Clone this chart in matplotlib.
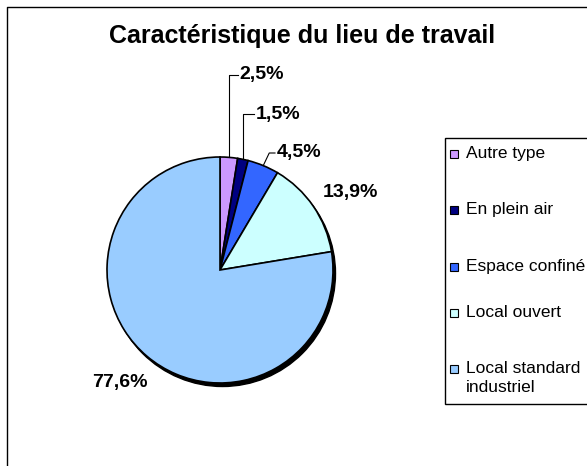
import numpy as np
import matplotlib
matplotlib.use('Agg')
import matplotlib.pyplot as plt
from matplotlib.patches import Circle, Rectangle

plt.rcParams['font.family'] = ['Liberation Sans', 'DejaVu Sans']

# data
categories = ['Autre type', 'En plein air', 'Espace confiné', 'Local ouvert',
              'Local standard\nindustriel']
values = [2.5, 1.5, 4.5, 13.9, 77.6]
labels = ['2,5%', '1,5%', '4,5%', '13,9%', '77,6%']
colors = ['#CC99FF', '#000080', '#3366FF', '#CCFFFF', '#99CCFF']

W, H = 587, 466
fig = plt.figure(figsize=(W / 100, H / 100), dpi=100)
ax = fig.add_axes([0, 0, 1, 1])

# pie geometry in pixels (y down)
cx, cy, r = 220, 270, 113

# shadow
ax.add_patch(Circle((cx + 2.5, cy + 3.5), r, color='black', zorder=1))

# the y axis is inverted, so counterclock in data space is clockwise on screen
wedges, _ = ax.pie(values, colors=colors, startangle=-90, counterclock=True,
                   center=(cx, cy), radius=r, frame=True,
                   wedgeprops=dict(edgecolor='black', linewidth=1.2, zorder=2))
ax.set_xlim(0, W)
ax.set_ylim(H, 0)
ax.set_aspect('auto')
ax.axis('off')

# frame of chart area
ax.plot([7, 7, W + 5], [H + 5, 7, 7], color='black', lw=1)

ax.text(302, 36, 'Caractéristique du lieu de travail', ha='center', va='center',
        fontsize=18, fontweight='bold')

# label positions
pos = [(262, 75), (278, 114), (299, 153), (350, 192), (120, 382)]
for lab, (lx, ly) in zip(labels, pos):
    ax.text(lx, ly, lab, ha='center', va='center', fontsize=14,
            fontweight='bold', zorder=5)

# leader lines for the small slices
cum = np.cumsum([0] + values)
for i in range(3):
    mid = (cum[i] + values[i] / 2) / 100 * 2 * np.pi
    ax_x = cx + r * np.sin(mid)
    ax_y = cy - r * np.cos(mid)
    lx, ly = pos[i]
    tx = lx - 24
    if i < 2:
        xs = [ax_x, ax_x, tx]
        ys = [ax_y, ly, ly]
    else:
        xs = [ax_x, ax_x + 6, tx]
        ys = [ax_y, ly, ly]
    ax.plot(xs, ys, color='black', lw=0.8, zorder=4)

# legend
ax.add_patch(Rectangle((445, 138), 160, 266, facecolor='white',
                       edgecolor='black', lw=1, zorder=3))
ys_leg = [154, 210, 267, 313, 369]
for name, col, yy in zip(categories, colors, ys_leg):
    ax.add_patch(Rectangle((450, yy - 4), 8, 8, facecolor=col,
                           edgecolor='black', lw=0.8, zorder=4))
    ax.text(466, yy - 8, name, ha='left', va='top', fontsize=12.5,
            linespacing=1.32, zorder=4)

fig.savefig('out.png', dpi=100)
